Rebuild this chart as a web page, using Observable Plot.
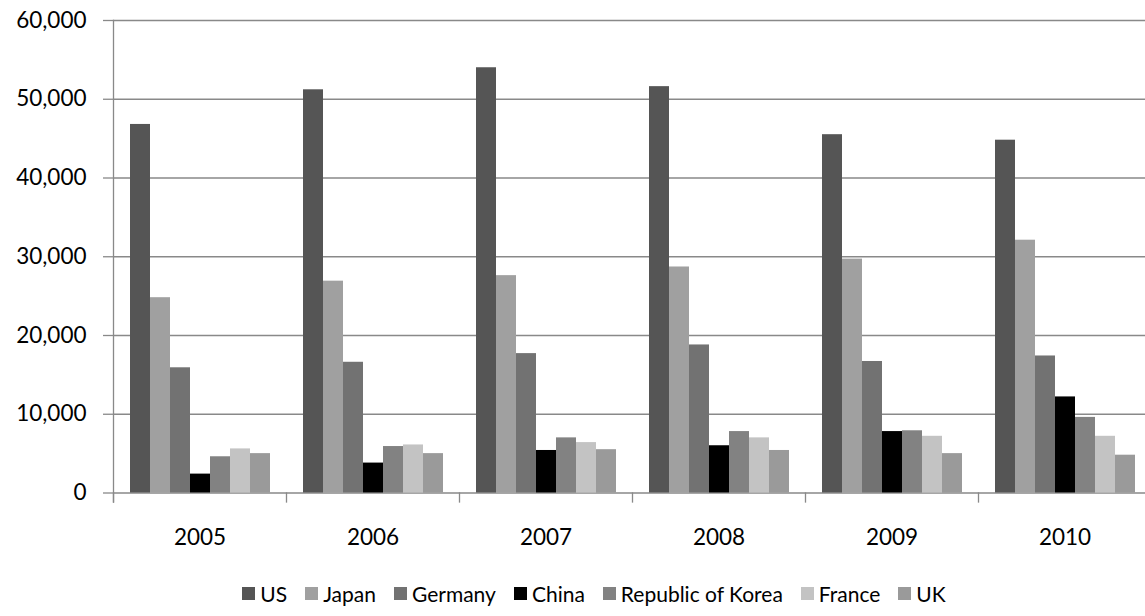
<!DOCTYPE html>
<html>
<head>
<meta charset="utf-8">
<script src="https://cdn.jsdelivr.net/npm/d3@7"></script>
<script src="https://cdn.jsdelivr.net/npm/@observablehq/plot@0.6"></script>
<style>
  html, body { margin: 0; padding: 0; background: #fff; }
  #chart { width: 1145px; font-family: Lato, "Open Sans", sans-serif; }
  #legend {
    display: flex; justify-content: center; align-items: center;
    height: 46px; padding-left: 43px; box-sizing: border-box;
    font-family: Lato, "Open Sans", sans-serif; font-size: 21px; color: #000;
  }
  #legend .item { display: flex; align-items: center; margin: 0 9px; white-space: nowrap; }
  #legend .swatch { width: 13px; height: 13px; margin-right: 5px; }
</style>
</head>
<body>
<div id="chart"></div>
<div id="legend"></div>
<script>
// Years on the category axis
const years = ["2005", "2006", "2007", "2008", "2009", "2010"];

// Countries, in series order
const countries = ["US", "Japan", "Germany", "China", "Republic of Korea", "France", "UK"];

// Series values, one per year
const usValues      = [46800, 51200, 54000, 51600, 45500, 44800];
const japanValues   = [24800, 26900, 27600, 28700, 29700, 32100];
const germanyValues = [15900, 16600, 17700, 18800, 16700, 17400];
const chinaValues   = [2400, 3800, 5400, 6000, 7800, 12200];
const koreaValues   = [4600, 5900, 7000, 7800, 7900, 9600];
const franceValues  = [5600, 6100, 6400, 7000, 7200, 7200];
const ukValues      = [5000, 5000, 5500, 5400, 5000, 4800];

// Value-axis ticks
const yTicks = [0, 10000, 20000, 30000, 40000, 50000, 60000];

// Series fills
const grays = ["#555555", "#a0a0a0", "#727272", "#000000", "#828282", "#c3c3c3", "#9a9a9a"];

const seriesValues = [usValues, japanValues, germanyValues, chinaValues, koreaValues, franceValues, ukValues];
const rows = [];
years.forEach((year, i) => {
  countries.forEach((country, j) => {
    rows.push({year, country, value: seriesValues[j][i]});
  });
});

const axisGray = "#898989";
const width = 1145;
const height = 570;
const marginTop = 20;
const marginBottom = 77.5;
const plotHeight = height - marginTop - marginBottom;

const chart = Plot.plot({
  width,
  height,
  marginLeft: 111,
  marginRight: -7,
  marginTop,
  marginBottom,
  style: {fontFamily: "Lato, 'Open Sans', sans-serif", fontSize: "22.5px", color: "#000", background: "#fff", overflow: "hidden"},
  fx: {domain: years, padding: 0, label: null},
  x: {domain: countries, paddingInner: 0, paddingOuter: 0.73, axis: null},
  y: {domain: [0, 60000], label: null},
  color: {domain: countries, range: grays},
  marks: [
    Plot.gridY(yTicks, {stroke: axisGray, strokeOpacity: 1, strokeWidth: 1.3}),
    Plot.barY(rows, {fx: "year", x: "country", y: "value", fill: "country"}),
    // short category separators below the baseline
    Plot.frame({anchor: "left", stroke: axisGray, strokeWidth: 1.3, insetTop: plotHeight, insetBottom: -9}),
    // value-axis line
    Plot.frame({anchor: "left", facet: "super", stroke: axisGray, strokeWidth: 1.3, insetBottom: -9}),
    Plot.axisY({ticks: yTicks, tickFormat: d3.format(","), tickSize: 10, tickPadding: 17, stroke: axisGray, strokeWidth: 1.3, label: null, fill: "#000"}),
    Plot.axisFx({anchor: "bottom", tickSize: 0, tickPadding: 36, label: null, fill: "#000"})
  ]
});
document.getElementById("chart").appendChild(chart);

// Legend built from the chart's own color scale
const color = chart.scale("color");
const legend = document.getElementById("legend");
color.domain.forEach((name, i) => {
  const item = document.createElement("div");
  item.className = "item";
  const sw = document.createElement("div");
  sw.className = "swatch";
  sw.style.background = color.range[i];
  const label = document.createElement("span");
  label.textContent = name;
  item.appendChild(sw);
  item.appendChild(label);
  legend.appendChild(item);
});
</script>
</body>
</html>
